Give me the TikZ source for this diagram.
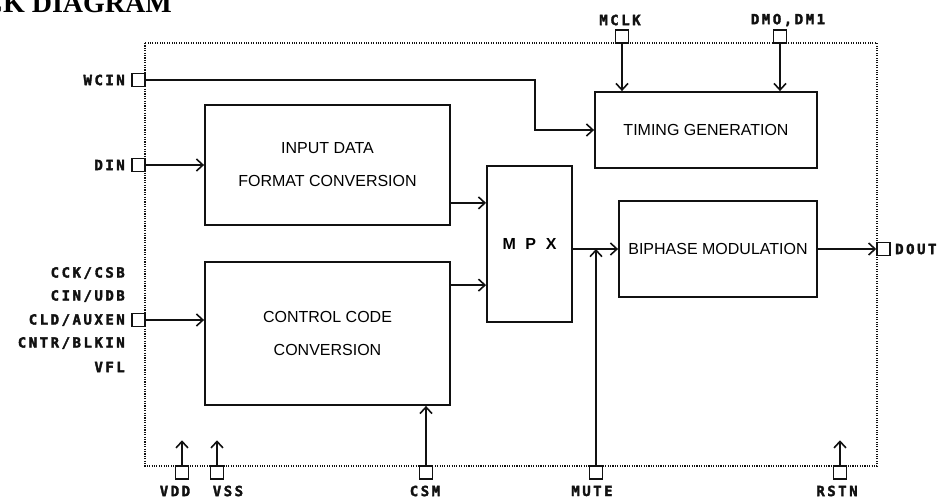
\documentclass[tikz,border=0pt]{standalone}
\usepackage{fontspec}
\setmainfont{Liberation Sans}
\newfontfamily\pinfont[LetterSpace=18,FakeBold=2.5]{DejaVu Sans Mono Bold}
\newfontfamily\titlefont{Liberation Serif}
\usetikzlibrary{arrows.meta,positioning}
\definecolor{ink}{HTML}{111111}

\begin{document}
\begin{tikzpicture}[x=1pt,y=-1pt,
    blk/.style={draw=ink,line width=1.8pt,inner sep=0pt,align=center,
      font=\fontsize{16}{33}\selectfont},
    pad/.style={draw=ink,line width=1.5pt,minimum size=13pt,inner sep=0pt},
    pin/.style={text=ink,font=\pinfont\fontsize{14}{16}\selectfont,inner sep=1pt},
    sig/.style={draw=ink,line width=1.8pt,-{Straight Barb[length=6.5pt,width=12pt,line width=1.6pt]}},
    chip/.style={draw=ink,line width=1.3pt,dash pattern=on 1.1pt off 1.3pt}]
  \useasboundingbox (0,0) rectangle (943,499);
  % cut-off heading
  \node[font=\titlefont\bfseries\fontsize{28}{30}\selectfont,anchor=base east,inner sep=0pt]
    (ttl) at (172,12) {BLOCK DIAGRAM};
  % chip outline
  \draw[chip] (145,43) rectangle (877,466);
  % blocks
  \node[blk,minimum width=245pt,minimum height=120pt] (idf) at (327.5,165) {INPUT DATA\\FORMAT CONVERSION};
  \node[blk,minimum width=245pt,minimum height=143pt] (ccc) at (327.5,333.5) {CONTROL CODE\\CONVERSION};
  \node[blk,minimum width=85pt,minimum height=156pt,font=\bfseries\fontsize{16}{18}\selectfont]
    (mpx) at (529.5,244) {M\hspace{0.6em}P\hspace{0.6em}X};
  \node[blk,minimum width=222pt,minimum height=76pt] (tim) at (706,130) {TIMING GENERATION};
  \node[blk,minimum width=198pt,minimum height=96pt] (bpm) at (718,249) {BIPHASE MODULATION};
  % left pins
  \node[pad] (wcin) at (138.5,80) {};
  \node[pad] (din) at (138.5,165) {};
  \node[pad] (cld) at (138.5,320) {};
  \node[pin,anchor=east] at (126,80) {WCIN};
  \node[pin,anchor=east] at (126,165) {DIN};
  \foreach \y/\t in {273/{CCK/CSB},296/{CIN/UDB},320/{CLD/AUXEN},343/{CNTR/BLKIN},367/VFL}
    \node[pin,anchor=east] at (126,\y) {\t};
  % top pins
  \node[pad] (mclk) at (622,36.5) {};
  \node[pad] (dmo) at (780,36.5) {};
  \node[pin] at (620,20) {MCLK};
  \node[pin] at (788,20) {DMO,DM1};
  % bottom pins
  \foreach \n/\x/\lx/\t in {vdd/182/175/VDD,vss/217/228/VSS,csm/426/425/CSM,mute/596/592/MUTE,rstn/840/837/RSTN}{
    \node[pad] (\n) at (\x,472.5) {};
    \node[pin] at (\lx,491) {\t};
  }
  % right pin
  \node[pad] (dout) at (883.5,249) {};
  \node[pin,anchor=west] at (894,249) {DOUT};
  % connections
  \draw[sig] (wcin.east) -- ++(389,0) |- (tim.west);
  \draw[sig] (din.east) -- (idf.west);
  \draw[sig] (cld.east) -- (cld.east -| ccc.west);
  \draw[sig] ([yshift=23pt]idf.south east) -- ([yshift=23pt]idf.south east -| mpx.west);
  \draw[sig] ([yshift=-24pt]ccc.north east) -- ([yshift=-24pt]ccc.north east -| mpx.west);
  \draw[sig] (mpx.east |- bpm.west) -- (bpm.west);
  \draw[sig] (mute.north) -- (mute.north |- bpm.west);
  \draw[sig] (csm.north) -- (csm.north |- ccc.south);
  \draw[sig] (mclk.south) -- (mclk.south |- tim.north);
  \draw[sig] (dmo.south) -- (dmo.south |- tim.north);
  \draw[sig] (bpm.east) -- (dout.west);
  \foreach \n in {vdd,vss,rstn}
    \draw[sig] (\n.north) -- ++(0,-25);
\end{tikzpicture}
\end{document}
